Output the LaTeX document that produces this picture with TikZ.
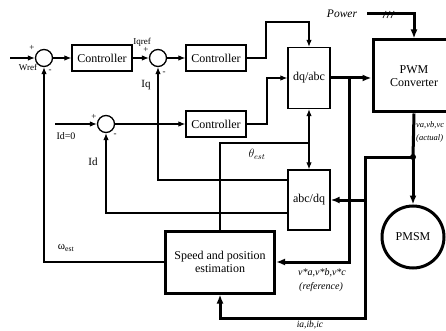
\documentclass[tikz,border=0pt]{standalone}
\usepackage{fontspec}
\setmainfont{Liberation Serif}
\usetikzlibrary{arrows.meta}

\begin{document}
\begin{tikzpicture}[x=1pt, y=-1pt,
	every node/.style={font=\fontsize{12}{13.5}\selectfont},
	blk/.style={draw, line width=1.3pt, minimum width=60pt, minimum height=26pt, inner sep=0pt},
	sumj/.style={draw, circle, line width=1.3pt, minimum size=17pt, inner sep=0pt},
	sig/.style={line width=1.1pt, -{Latex[length=7pt,width=5.5pt]}},
	bus/.style={line width=3pt, -{Latex[length=9pt,width=7pt]}},
	lbl/.style={font=\fontsize{9}{10}\selectfont, inner sep=0pt},
	ital/.style={font=\fontsize{10}{11}\selectfont\itshape, inner sep=0pt}]
				\useasboundingbox (0,0) rectangle (446,331);
				
				% speed and current loops
				\node[sumj] (s1) at (44,58) {};
				\node[blk] (c1) at (102,58) {Controller};
				\node[sumj] (s2) at (158,58) {};
				\node[blk] (c2) at (216,58) {Controller};
				\node[sumj] (s3) at (106,124) {};
				\node[blk] (c3) at (216,124) {Controller};
				
				\node[blk, minimum width=42pt, minimum height=61pt] (dqabc) at (309,78) {dq/abc};
				\node[blk, minimum width=42pt, minimum height=60pt] (abcdq) at (309,200) {abc/dq};
				\node[blk, line width=3pt, minimum width=109pt, minimum height=62pt, align=center] (spe) at (220,262) {Speed and position\\estimation};
				\node[blk, line width=3pt, minimum width=82pt, minimum height=72pt, align=center] (pwm) at (414,76) {PWM\\Converter};
				\node[draw, circle, line width=3pt, minimum size=62pt, inner sep=0pt] (pmsm) at (413,237) {PMSM};
				
				\coordinate (win) at (10,58);
				\coordinate (idin) at (55,124);
				\coordinate (pwr) at (367,14);
				\coordinate (jn) at (413,157);
				\coordinate (vtap) at (349,78);
				\coordinate (itap) at (365,157);
				\coordinate (iqo) at (288,180);
				\coordinate (ido) at (288,213);
				\coordinate (th) at (309,143);
				
				\draw[sig] (win) -- (s1);
				\draw[sig] (s1) -- (c1);
				\draw[sig] (c1) -- (s2);
				\draw[sig] (s2) -- (c2);
				\draw[sig] (c2.east) -| (266,22) -| (dqabc.north);
				\draw[sig] (idin) -- (s3);
				\draw[sig] (s3) -- (c3);
				\draw[sig] (c3.east) -| (267,78) -- (dqabc.west);
				
				% feedback
				\draw[sig] (iqo) -| (s2.south);
				\draw[sig] (ido) -| (s3.south);
				\draw[sig] (spe.west) -| (s1.south);
				\draw[line width=1.1pt] (spe.north) |- (th);
				\draw[sig] (th) -- (dqabc.south);
				\draw[sig] (th) -- (abcdq.north);
				
				% power side
				\draw[bus] (dqabc.east) -- (dqabc.east -| pwm.west);
				\draw[bus] (vtap) |- (spe.east);
				\draw[bus] (pwr) -| (pwm.north);
				\foreach \dx in {0,4,8}
					\draw[line width=0.7pt] (383+\dx,18) -- (386+\dx,11);
				\draw[line width=3pt] (pwm.south) -- (jn);
				\draw[bus] (jn) -- (pmsm.north);
				\fill (jn) circle (3);
				\draw[bus] (jn) -- (itap) -- (365,318) -| (spe.south);
				\draw[bus] (365,200) -- (abcdq.east);
				
				% labels
				\node[lbl] at (32,48) {+};
				\node[lbl] at (28,67) {Wref};
				\node[lbl] at (50,71) {-};
				\node[lbl] at (142,42) {Iqref};
				\node[lbl] at (146,50) {+};
				\node[lbl] at (164,73) {-};
				\node[lbl, font=\fontsize{11}{12}\selectfont] at (146,85) {Iq};
				\node[lbl] at (94,117) {+};
				\node[lbl, font=\fontsize{10}{11}\selectfont] at (66,136) {Id=0};
				\node[lbl] at (115,135) {-};
				\node[lbl, font=\fontsize{11}{12}\selectfont] at (93,162) {Id};
				\node[lbl, font=\fontsize{11}{12}\selectfont] at (66,248) {ω\textsubscript{est}};
				\node[inner sep=0pt] at (257,154) {$\theta_{est}$};
				\node[ital] at (322,273) {v*a,v*b,v*c};
				\node[ital] at (321,287) {(reference)};
				\node[ital, font=\fontsize{9.5}{10}\selectfont\itshape] at (310,325) {ia,ib,ic};
				\node[ital, font=\fontsize{11.5}{12}\selectfont\itshape] at (342,14) {Power};
				\node[ital, anchor=west, font=\fontsize{8.5}{10}\selectfont\itshape] at (416,125) {va,vb,vc};
				\node[ital, anchor=west, font=\fontsize{8.5}{10}\selectfont\itshape] at (416,138) {(actual)};
			\end{tikzpicture}
\end{document}
